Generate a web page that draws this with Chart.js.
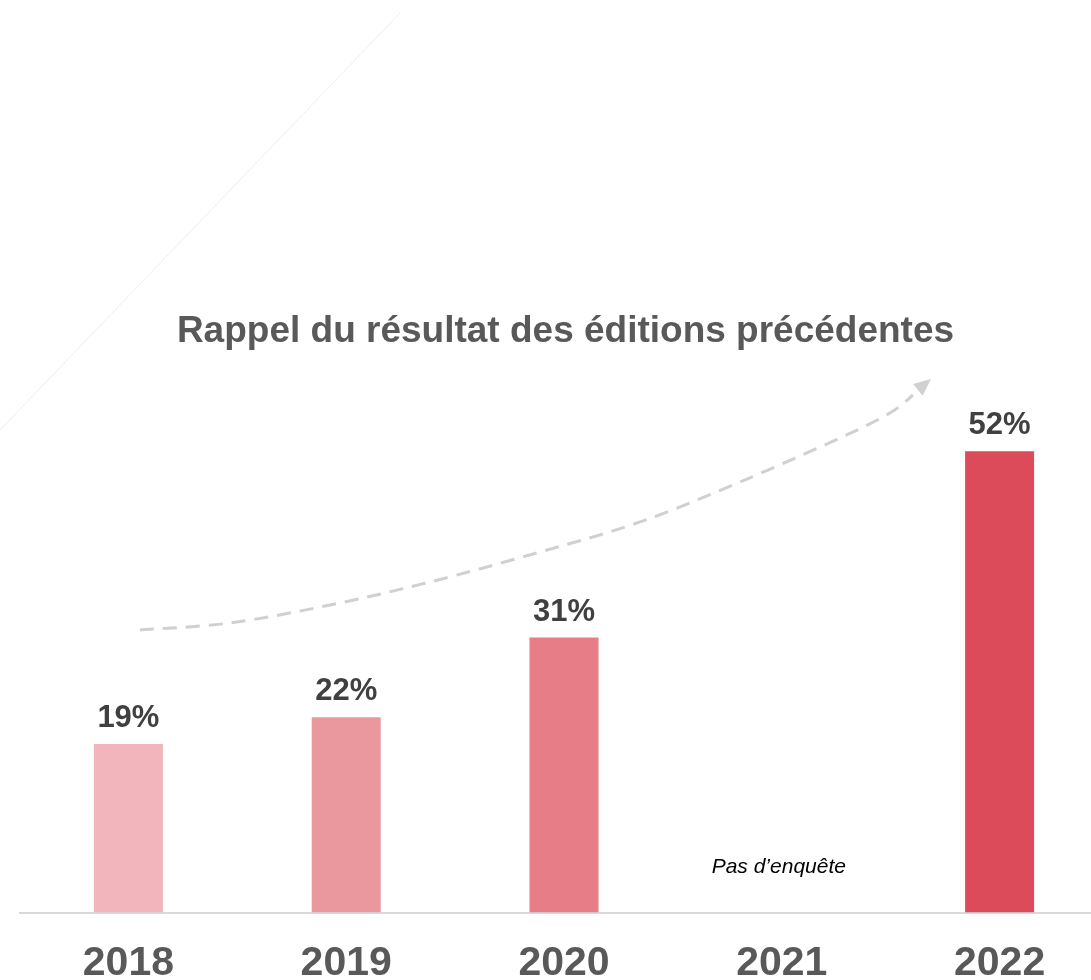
<!DOCTYPE html>
<html>
<head>
<meta charset="utf-8">
<script src="https://cdn.jsdelivr.net/npm/chart.js@4.4.1/dist/chart.umd.min.js"></script>
<style>
  html, body { margin: 0; padding: 0; background: #ffffff; overflow: hidden; }
  #wrap { width: 1109px; height: 980px; }
</style>
</head>
<body>
<div id="wrap"><canvas id="c" width="1109" height="980"></canvas></div>
<script>
// ---- data ----
const years = ['2018', '2019', '2020', '2021', '2022'];
const values = [19, 22, 31, null, 52];
const barColors = ['#f2b5bb', '#eb979e', '#e67d87', '#ffffff', '#dc4b5a'];
const valueLabels = ['19%', '22%', '31%', '', '52%'];
const titleText = 'Rappel du résultat des éditions précédentes';
const noSurveyText = 'Pas d\u2019enquête';
const noSurveyIndex = 3;
// decorative trend arrow path, in (category index, value %) units
const trendX = [0.053, 0.467, 0.926, 1.385, 1.890, 2.349, 2.808, 3.267, 3.496, 3.602, 3.685];
const trendY = [31.85, 32.64, 34.67, 37.26, 40.64, 44.03, 48.53, 53.49, 56.31, 58.34, 60.14];

const FONT = "'Liberation Sans', Arial, sans-serif";

const decor = {
  id: 'decor',
  beforeDatasetsDraw(chart) {
    const ctx = chart.ctx;
    const xs = chart.scales.x, ys = chart.scales.y;
    ctx.save();
    // faint diagonal decoration line
    ctx.strokeStyle = '#eeeeee';
    ctx.lineWidth = 1;
    ctx.beginPath();
    ctx.moveTo(400, 13);
    ctx.lineTo(0, 430);
    ctx.stroke();

    // dashed trend curve
    const pts = trendX.map((v, i) => [xs.getPixelForValue(v), ys.getPixelForValue(trendY[i])]);
    const n = pts.length;
    const tip = pts[n - 1];
    const prev = pts[n - 3];
    const ang = Math.atan2(tip[1] - prev[1], tip[0] - prev[0]);
    const headLen = 17, headW = 7.5;
    const base = [tip[0] - headLen * Math.cos(ang), tip[1] - headLen * Math.sin(ang)];
    const path = pts.slice(0, n - 1);
    ctx.strokeStyle = '#d0d0d0';
    ctx.lineWidth = 3;
    ctx.setLineDash([14, 9]);
    ctx.beginPath();
    ctx.moveTo(path[0][0], path[0][1]);
    for (let i = 0; i < path.length - 1; i++) {
      const p0 = path[Math.max(i - 1, 0)], p1 = path[i], p2 = path[i + 1], p3 = path[Math.min(i + 2, path.length - 1)];
      const c1 = [p1[0] + (p2[0] - p0[0]) / 6, p1[1] + (p2[1] - p0[1]) / 6];
      const c2 = [p2[0] - (p3[0] - p1[0]) / 6, p2[1] - (p3[1] - p1[1]) / 6];
      ctx.bezierCurveTo(c1[0], c1[1], c2[0], c2[1], p2[0], p2[1]);
    }
    ctx.stroke();
    ctx.setLineDash([]);
    ctx.fillStyle = '#d0d0d0';
    ctx.beginPath();
    ctx.moveTo(tip[0], tip[1]);
    ctx.lineTo(base[0] + headW * Math.sin(ang), base[1] - headW * Math.cos(ang));
    ctx.lineTo(base[0] - headW * Math.sin(ang), base[1] + headW * Math.cos(ang));
    ctx.closePath();
    ctx.fill();
    ctx.restore();
  },
  afterDatasetsDraw(chart) {
    const ctx = chart.ctx;
    const xs = chart.scales.x;
    ctx.save();
    // title
    ctx.fillStyle = '#595959';
    ctx.font = 'bold 37px ' + FONT;
    ctx.textAlign = 'center';
    ctx.textBaseline = 'alphabetic';
    ctx.fillText(titleText, 565.5, 342);

    // value labels
    ctx.fillStyle = '#404040';
    ctx.font = 'bold 31px ' + FONT;
    const meta = chart.getDatasetMeta(0);
    meta.data.forEach((bar, i) => {
      if (values[i] === null) return;
      ctx.fillText(valueLabels[i], bar.x, bar.y - 17);
    });

    // no survey note
    ctx.fillStyle = '#000000';
    ctx.font = 'italic 21px ' + FONT;
    ctx.fillText(noSurveyText, xs.getPixelForValue(noSurveyIndex) - 3, 873);
    ctx.restore();
  }
};

new Chart(document.getElementById('c'), {
  type: 'bar',
  data: {
    labels: years,
    datasets: [{
      data: values,
      backgroundColor: barColors,
      borderWidth: 0,
      barPercentage: 0.3168,
      categoryPercentage: 1
    }]
  },
  options: {
    responsive: false,
    animation: false,
    devicePixelRatio: 1,
    layout: { padding: { left: 19.5, right: 0.5, top: 25.5, bottom: 0 } },
    plugins: { legend: { display: false }, tooltip: { enabled: false }, title: { display: false } },
    scales: {
      x: {
        grid: { display: false, drawTicks: false },
        border: { display: true, color: '#d9d9d9', width: 2 },
        ticks: {
          color: '#595959',
          font: { family: FONT, size: 41, weight: 'bold' },
          padding: 27,
          maxRotation: 0,
          autoSkip: false
        },
        afterFit(scale) { scale.height = 67.5; }
      },
      y: {
        display: false,
        min: 0,
        max: 100
      }
    }
  },
  plugins: [decor]
});
</script>
</body>
</html>
